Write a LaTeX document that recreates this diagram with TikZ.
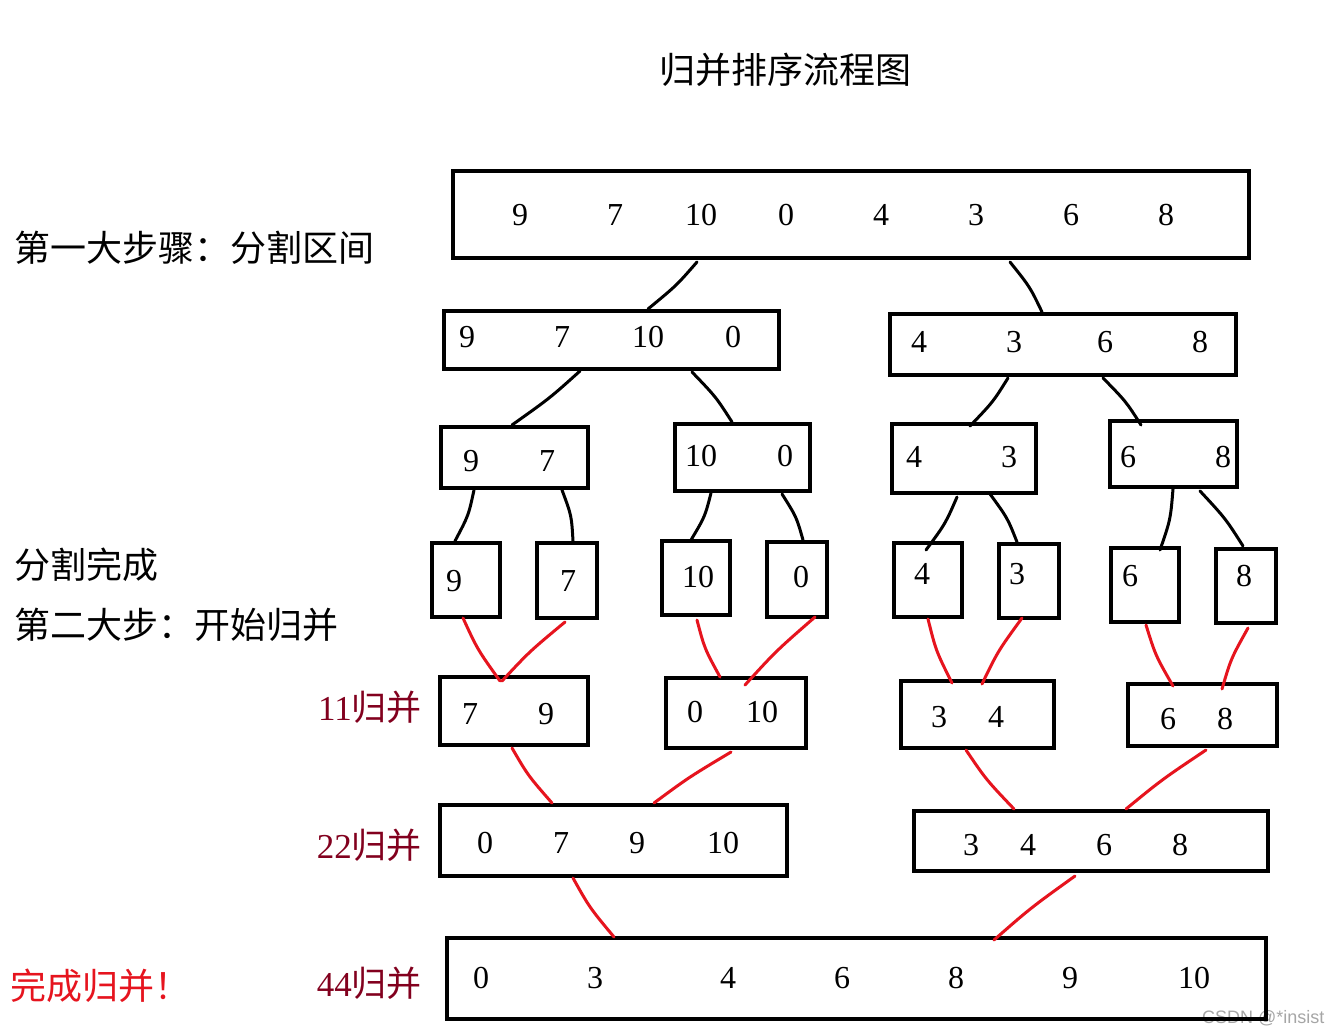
\documentclass[tikz,border=0pt]{standalone}
\usepackage{fontspec}
\setmainfont{Liberation Serif}
\newfontfamily\cjk{Noto Sans CJK SC}
\newcommand\bx[5]{\node[box,minimum width={#4-#2},minimum height={#5-#3}] (#1) at ({(#2+#4)/2},{(#3+#5)/2}) {};}
\begin{document}
\begin{tikzpicture}[x=1pt,y=-1pt,
  box/.style={draw,line width=3.5pt,inner sep=0pt},
  num/.style={font=\fontsize{32}{32}\selectfont,inner sep=0pt},
  zh/.style={font=\cjk\fontsize{36}{36}\selectfont,inner sep=0pt,anchor=west},
  blk/.style={line width=3pt,line cap=round},
  red/.style={line width=3pt,line cap=round,draw={rgb,255:red,230;green,20;blue,30}}]
\useasboundingbox[fill=white] (0,0) rectangle (1343,1035);
\node[font=\cjk\fontsize{36}{36}\selectfont] (title) at (785,70) {归并排序流程图};
\node[zh] (s1) at (14,248) {第一大步骤：分割区间};
\node[zh] (s2) at (14,565) {分割完成};
\node[zh] (s3) at (14,625) {第二大步：开始归并};
\node[zh,text={rgb,255:red,230;green,20;blue,30}] (s4) at (10,986) {完成归并！};
\begin{scope}[every node/.style={font=\cjk\fontsize{35}{35}\selectfont,inner sep=0pt,anchor=east,text={rgb,255:red,130;green,0;blue,30}}]
\node (m1) at (422,707) {{\fontspec{Liberation Serif}11}归并};
\node (m2) at (422,845) {{\fontspec{Liberation Serif}22}归并};
\node (m3) at (422,983) {{\fontspec{Liberation Serif}44}归并};
\end{scope}
\node[font=\fontspec{Liberation Sans}\fontsize{18}{18}\selectfont,text=gray!70,anchor=east] (wm) at (1328,1018) {CSDN @*insist};
% boxes
\bx{t}{453}{171}{1249}{258}
\bx{a1}{444}{311}{779}{369}
\bx{a2}{890}{314}{1236}{375}
\bx{b1}{441}{427}{588}{488}
\bx{b2}{675}{424}{810}{491}
\bx{b3}{892}{424}{1036}{493}
\bx{b4}{1110}{421}{1237}{487}
\bx{c1}{432}{543}{500}{617}
\bx{c2}{537}{543}{597}{618}
\bx{c3}{662}{541}{730}{615}
\bx{c4}{767}{542}{827}{617}
\bx{c5}{894}{543}{962}{617}
\bx{c6}{999}{544}{1059}{618}
\bx{c7}{1111}{548}{1179}{622}
\bx{c8}{1216}{549}{1276}{623}
\bx{d1}{440}{677}{588}{745}
\bx{d2}{666}{678}{806}{748}
\bx{d3}{901}{681}{1054}{748}
\bx{d4}{1128}{684}{1277}{746}
\bx{e1}{440}{805}{787}{876}
\bx{e2}{914}{811}{1268}{871}
\bx{f1}{447}{938}{1266}{1019}
% numbers
\foreach \x/\t in {520/9,615/7,701/10,786/0,881/4,976/3,1071/6,1166/8} \node[num] at (\x,215) {\t};
\foreach \x/\t in {467/9,562/7,648/10,733/0} \node[num] at (\x,337) {\t};
\foreach \x/\t in {919/4,1014/3,1105/6,1200/8} \node[num] at (\x,342) {\t};
\foreach \x/\t/\y in {471/9/461,547/7/461,701/10/456,785/0/456,914/4/457,1009/3/457,1128/6/457,1223/8/457} \node[num] at (\x,\y) {\t};
\foreach \x/\t/\y in {454/9/581,568/7/581,698/10/577,801/0/577,922/4/574,1017/3/574,1130/6/576,1244/8/576} \node[num] at (\x,\y) {\t};
\foreach \x/\t/\y in {470/7/714,546/9/714,695/0/712,762/10/712,939/3/717,996/4/717,1168/6/719,1225/8/719} \node[num] at (\x,\y) {\t};
\foreach \x/\t in {485/0,561/7,637/9,723/10} \node[num] at (\x,843) {\t};
\foreach \x/\t in {971/3,1028/4,1104/6,1180/8} \node[num] at (\x,845) {\t};
\foreach \x/\t in {481/0,595/3,728/4,842/6,956/8,1070/9,1194/10} \node[num] at (\x,978) {\t};
% black connectors
\foreach \a/\b/\c/\d in {697/262/648/309,1010/262/1042/312,580/371/512/425,692/372/732/422,1008/378/970/426,1103/378/1141/425,474/490/455/541,562/490/573/541,711/493/691/540,782/494/803/540,957/497/926/550,990/494/1017/542,1173/489/1160/550,1200/491/1243/546}
  \draw[blk] (\a,\b) .. controls ({(\a+\c)/2+4},{(\b+\d)/2}) .. (\c,\d);
% red connectors
\foreach \a/\b/\c/\d in {463/618/500/681,565/622/502/681,697/620/720/677,815/617/745/685,928/619/952/683,1022/618/982/684,1146/625/1173/686,1248/628/1222/689,512/748/552/803,731/752/654/803,966/750/1014/809,1206/750/1126/809,573/878/614/937,1075/876/994/940}
  \draw[red] (\a,\b) .. controls ({(\a+\c)/2-4},{(\b+\d)/2}) .. (\c,\d);
\end{tikzpicture}
\end{document}
